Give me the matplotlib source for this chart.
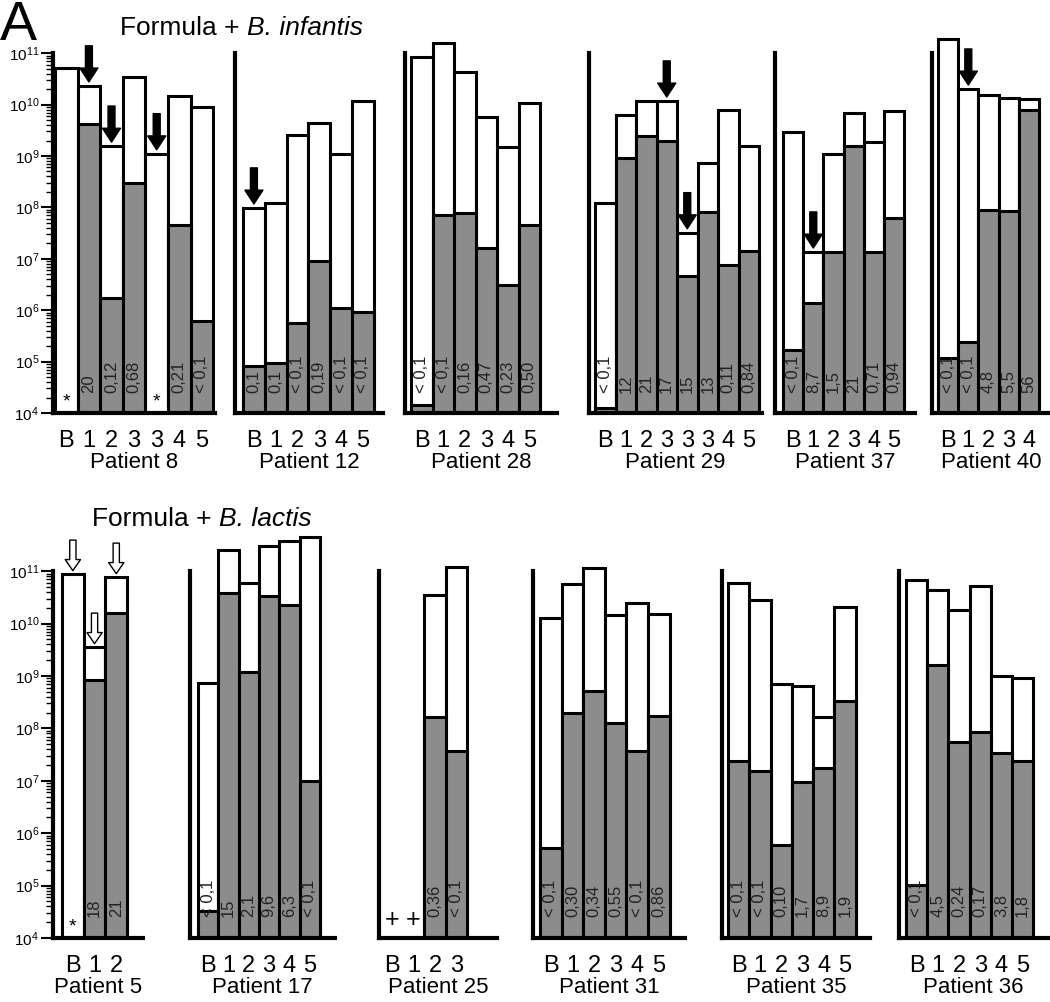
#관련 라이브러리 선언
import numpy as np
import matplotlib
matplotlib.use("Agg")
from matplotlib import pyplot as plt
from matplotlib.ticker import FixedLocator, NullLocator

plt.rcParams['font.family'] = ['Liberation Sans', 'DejaVu Sans']
plt.rcParams['mathtext.fontset'] = 'custom'
plt.rcParams['mathtext.rm'] = 'Liberation Sans'
plt.rcParams['mathtext.it'] = 'Liberation Sans:italic'

#데이터 (Formula + B. infantis)
p8_labels = ['B', '1', '2', '3', '3', '4', '5']
p8_total = [5.1e10, 2.3e10, 1.55e9, 3.5e10, 1.1e9, 1.5e10, 9e9]
p8_bifido = [None, 4.2e9, 1.7e6, 3e8, None, 4.5e7, 6.2e5]
p8_pct = ['*', '20', '0,12', '0,68', '*', '0,21', '< 0,1']
p8_arrows = [1, 2, 4]

p12_labels = ['B', '1', '2', '3', '4', '5']
p12_total = [9.7e7, 1.2e8, 2.6e9, 4.4e9, 1.1e9, 1.2e10]
p12_bifido = [8.2e4, 9.4e4, 5.6e5, 9e6, 1.1e6, 9.2e5]
p12_pct = ['0,1', '0,1', '< 0,1', '0,19', '< 0,1', '< 0,1']
p12_arrows = [0]

p28_labels = ['B', '1', '2', '3', '4', '5']
p28_total = [8.5e10, 1.6e11, 4.3e10, 5.7e9, 1.5e9, 1.07e10]
p28_bifido = [1.4e4, 7e7, 7.8e7, 1.6e7, 3.1e6, 4.5e7]
p28_pct = ['< 0,1', '< 0,1', '0,16', '0,47', '0,23', '0,50']
p28_arrows = []

p29_labels = ['B', '1', '2', '3', '3', '3', '4', '5']
p29_total = [1.2e8, 6.3e9, 1.17e10, 1.17e10, 3.2e7, 7.3e8, 7.8e9, 1.56e9]
p29_bifido = [1.25e4, 9.1e8, 2.5e9, 2e9, 4.7e6, 8.1e7, 7.6e6, 1.4e7]
p29_pct = ['< 0,1', '12', '21', '17', '15', '13', '0,11', '0,84']
p29_arrows = [3, 4]

p37_labels = ['B', '1', '2', '3', '4', '5']
p37_total = [2.9e9, 1.35e7, 1.1e9, 6.9e9, 1.87e9, 7.6e9]
p37_bifido = [1.7e5, 1.4e6, 1.35e7, 1.56e9, 1.35e7, 6.2e7]
p37_pct = ['< 0,1', '8,7', '1,5', '21', '0,71', '0,94']
p37_arrows = [1]

p40_labels = ['B', '1', '2', '3', '4']
p40_total = [1.9e11, 2e10, 1.55e10, 1.35e10, 1.3e10]
p40_bifido = [1.2e5, 2.4e5, 8.9e7, 8.5e7, 7.8e9]
p40_pct = ['< 0,1', '< 0,1', '4,8', '5,5', '56']
p40_arrows = [1]

#데이터 (Formula + B. lactis)
p5_labels = ['B', '1', '2']
p5_total = [8.9e10, 3.6e9, 7.8e10]
p5_bifido = [None, 8.3e8, 1.6e10]
p5_pct = ['*', '18', '21']
p5_arrows = [0, 1, 2]

p17_labels = ['B', '1', '2', '3', '4', '5']
p17_total = [7.4e8, 2.5e11, 5.9e10, 3e11, 3.8e11, 4.5e11]
p17_bifido = [3.3e4, 3.8e10, 1.2e9, 3.4e10, 2.3e10, 1e7]
p17_pct = ['< 0,1', '15', '2,1', '9,6', '6,3', '< 0,1']
p17_arrows = []

p25_labels = ['B', '1', '2', '3']
p25_total = [None, None, 3.5e10, 1.2e11]
p25_bifido = [None, None, 1.65e8, 3.7e7]
p25_pct = ['+', '+', '0,36', '< 0,1']
p25_arrows = []

p31_labels = ['B', '1', '2', '3', '4', '5']
p31_total = [1.3e10, 5.7e10, 1.15e11, 1.45e10, 2.5e10, 1.5e10]
p31_bifido = [5.2e5, 1.96e8, 5.1e8, 1.27e8, 3.7e7, 1.7e8]
p31_pct = ['< 0,1', '0,30', '0,34', '0,55', '< 0,1', '0,86']
p31_arrows = []

p35_labels = ['B', '1', '2', '3', '4', '5']
p35_total = [5.9e10, 2.8e10, 7e8, 6.5e8, 1.65e8, 2.1e10]
p35_bifido = [2.4e7, 1.55e7, 5.9e5, 9.5e6, 1.75e7, 3.3e8]
p35_pct = ['< 0,1', '< 0,1', '0,10', '1,7', '8,9', '1,9']
p35_arrows = []

p36_labels = ['B', '1', '2', '3', '4', '5']
p36_total = [6.8e10, 4.4e10, 1.8e10, 5.2e10, 1e9, 9.1e8]
p36_bifido = [1.03e5, 1.6e9, 5.5e7, 8.5e7, 3.4e7, 2.4e7]
p36_pct = ['< 0,1', '4,5', '0,24', '0,17', '3,8', '1,8']
p36_arrows = []

#패널 배치 (픽셀): 이름, 데이터, 행, 축 x, 첫 막대 x, 간격, 오른쪽 끝
panels = [
    ('Patient 8', p8_labels, p8_total, p8_bifido, p8_pct, p8_arrows, 0, 53, 55, 22.6, 215),
    ('Patient 12', p12_labels, p12_total, p12_bifido, p12_pct, p12_arrows, 0, 235, 243, 21.8, 383),
    ('Patient 28', p28_labels, p28_total, p28_bifido, p28_pct, p28_arrows, 0, 405, 411, 21.5, 557),
    ('Patient 29', p29_labels, p29_total, p29_bifido, p29_pct, p29_arrows, 0, 589, 595, 20.5, 762),
    ('Patient 37', p37_labels, p37_total, p37_bifido, p37_pct, p37_arrows, 0, 775, 783, 20.2, 915),
    ('Patient 40', p40_labels, p40_total, p40_bifido, p40_pct, p40_arrows, 0, 932, 938, 20.2, 1050),
    ('Patient 5', p5_labels, p5_total, p5_bifido, p5_pct, p5_arrows, 1, 53, 62, 21.7, 143),
    ('Patient 17', p17_labels, p17_total, p17_bifido, p17_pct, p17_arrows, 1, 190, 198, 20.3, 335),
    ('Patient 25', p25_labels, p25_total, p25_bifido, p25_pct, p25_arrows, 1, 379, 381, 21.6, 497),
    ('Patient 31', p31_labels, p31_total, p31_bifido, p31_pct, p31_arrows, 1, 533, 540, 21.6, 685),
    ('Patient 35', p35_labels, p35_total, p35_bifido, p35_pct, p35_arrows, 1, 722, 728, 21.3, 870),
    ('Patient 36', p36_labels, p36_total, p36_bifido, p36_pct, p36_arrows, 1, 899, 906, 21.2, 1048),
]

W, H = 1050, 1002
rows = [(413, 51.4), (938, 52.4)]
TOP = 11.7
GREY = '#8c8c8c'

fig = plt.figure(figsize=(W / 100, H / 100), dpi=100)

for (name, labels, total, bifido, pct, arrows, row, x0, bl, pitch, x1) in panels:
    ybot, dec = rows[row]
    h = (TOP - 4) * dec
    ax = fig.add_axes([x0 / W, (H - ybot) / H, (x1 - x0) / W, h / H])
    ax.set_yscale('log')
    ax.set_ylim(1e4, 10 ** TOP)
    xl = -0.5 - (bl - x0) / pitch
    ax.set_xlim(xl, xl + (x1 - x0) / pitch)

    #막대 그리기
    for i, t in enumerate(total):
        if t is not None:
            ax.bar(i, t - 1e4, bottom=1e4, width=1.0, color='white',
                   edgecolor='black', linewidth=2.2, zorder=2)
    for i, b in enumerate(bifido):
        if b is not None:
            ax.bar(i, b - 1e4, bottom=1e4, width=1.0, color=GREY,
                   edgecolor='black', linewidth=2.2, zorder=3)

    #막대 안 숫자
    for i, s in enumerate(pct):
        if s == '*':
            ax.text(i, 1.65e4, s, ha='center', va='center', fontsize=14, zorder=5)
        elif s == '+':
            ax.text(i, 2.2e4, s, ha='center', va='center', fontsize=18, zorder=5)
        else:
            ax.text(i, 2.5e4, s, rotation=90, ha='center', va='bottom',
                    fontsize=12, color='#222222', zorder=5)

    #화살표
    for i in arrows:
        if row == 0:
            ax.annotate('', xy=(i, total[i] * 1.2), xytext=(0, 26), textcoords='offset points',
                        arrowprops=dict(facecolor='black', edgecolor='black', width=5,
                                        headwidth=13, headlength=10, shrink=0),
                        annotation_clip=False, zorder=6)
        else:
            ax.annotate('', xy=(i, total[i] * 1.15), xytext=(0, 22), textcoords='offset points',
                        arrowprops=dict(facecolor='white', edgecolor='black', width=4.5,
                                        headwidth=11, headlength=8, shrink=0, lw=1),
                        annotation_clip=False, zorder=6)

    #축 스타일
    for s in ['top', 'right']:
        ax.spines[s].set_visible(False)
    ax.spines['left'].set_linewidth(3)
    ax.spines['bottom'].set_linewidth(3)
    ax.spines['left'].set_bounds(1e4, 1e11)
    ax.spines['left'].set_zorder(4)
    ax.spines['bottom'].set_zorder(4)

    ax.set_xticks(range(len(labels)))
    ax.set_xticklabels(labels, fontsize=17)
    ax.tick_params(axis='x', length=0, pad=12)
    ax.set_xlabel(name, fontsize=16, labelpad=0)

    if x0 == 53:
        ax.yaxis.set_major_locator(FixedLocator([10.0 ** k for k in range(4, 12)]))
        ax.yaxis.set_minor_locator(FixedLocator([m * 10.0 ** k for k in range(4, 11) for m in range(2, 10)]))
        ax.set_yticklabels(['$10^{%d}$' % k for k in range(4, 12)], fontsize=11)
        ax.tick_params(axis='y', which='major', direction='out', length=9, width=1.5, pad=1)
        ax.tick_params(axis='y', which='minor', direction='out', length=5, width=1)
    else:
        ax.yaxis.set_major_locator(NullLocator())
        ax.yaxis.set_minor_locator(NullLocator())

#제목
fig.text(0.0, 1.0, 'A', fontsize=40, ha='left', va='top')
fig.canvas.draw()
for (x, y, sp) in [(120, 35, 'B. infantis'), (92, 526, 'B. lactis')]:
    t1 = fig.text(x / W, 1 - y / H, 'Formula + ', fontsize=19, va='baseline')
    bb = t1.get_window_extent(renderer=fig.canvas.get_renderer())
    fig.text(bb.x1 / W, 1 - y / H, sp, fontsize=19, va='baseline', style='italic')

plt.savefig('out.png', dpi=100)
